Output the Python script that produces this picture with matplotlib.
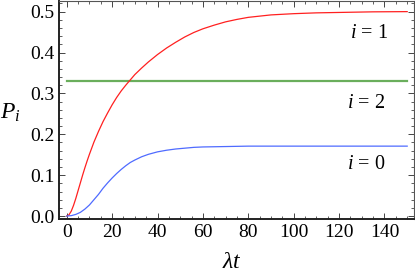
import matplotlib
matplotlib.use("Agg")
import matplotlib.pyplot as plt
from matplotlib.ticker import MultipleLocator, FormatStrFormatter

plt.rcParams['font.family'] = ['Liberation Serif', 'DejaVu Serif']
plt.rcParams['mathtext.fontset'] = 'custom'
plt.rcParams['mathtext.rm'] = 'Liberation Serif'
plt.rcParams['mathtext.it'] = 'Liberation Serif:italic'

# data
t_red = [0, 1, 2, 3, 4, 5, 6, 7, 8, 9, 10, 12, 14, 16, 18, 20, 22, 24, 26, 28, 30,
         33, 36, 40, 44, 48, 52, 56, 60, 65, 70, 75, 80, 90, 100, 110, 120, 135, 150]
p_red = [0.0, 0.003, 0.012, 0.026, 0.043, 0.062, 0.081, 0.100, 0.118, 0.135, 0.151,
         0.181, 0.207, 0.231, 0.252, 0.272, 0.290, 0.306, 0.320, 0.333, 0.346,
         0.362, 0.377, 0.395, 0.411, 0.425, 0.438, 0.449, 0.458, 0.467, 0.475,
         0.481, 0.486, 0.492, 0.495, 0.497, 0.498, 0.4995, 0.5]

t_blue = [0, 2, 4, 6, 8, 10, 12, 14, 16, 18, 20, 22, 24, 26, 28, 30, 33, 36, 40,
          44, 48, 52, 56, 60, 70, 80, 100, 150]
p_blue = [0.0, 0.001, 0.004, 0.009, 0.017, 0.027, 0.040, 0.053, 0.068, 0.081, 0.093,
          0.104, 0.114, 0.123, 0.131, 0.137, 0.145, 0.151, 0.157, 0.161, 0.164,
          0.166, 0.168, 0.169, 0.170, 0.171, 0.171, 0.171]

t_green = [0, 150]
p_green = [0.33, 0.33]

labels = ['$i$ = 1', '$i$ = 2', '$i$ = 0']
label_x = [133, 132, 132]
label_y = [0.447, 0.276, 0.125]

fig = plt.figure(figsize=(4.15, 2.73), dpi=100)
ax = fig.add_axes([59/415, 1 - 218.5/273, (414 - 59)/415, (218.5 - 1)/273])

ax.plot(t_green, p_green, color='#6aae5c', lw=1.6)
ax.plot(t_red, p_red, color='#ff2020', lw=0.9)
ax.plot(t_blue, p_blue, color='#4f6bff', lw=0.9)

for s, x, y in zip(labels, label_x, label_y):
    ax.text(x, y, s, fontsize=14.5, ha='center', va='center')

ax.set_xlim(-3.4, 153)
ax.set_ylim(-0.006, 0.526)
ax.xaxis.set_major_locator(MultipleLocator(20))
ax.xaxis.set_minor_locator(MultipleLocator(5))
ax.yaxis.set_major_locator(MultipleLocator(0.1))
ax.yaxis.set_minor_locator(MultipleLocator(0.02))
ax.yaxis.set_major_formatter(FormatStrFormatter('%.1f'))

ax.tick_params(which='both', direction='in', top=True, right=True, labelsize=14, color='#444444')
ax.tick_params(which='major', length=4.3, width=0.7)
ax.tick_params(which='minor', length=2.5, width=0.6)
ax.tick_params(axis='x', pad=4)
ax.tick_params(axis='y', pad=3)

for side in ['left', 'bottom']:
    ax.spines[side].set_linewidth(1.4)
    ax.spines[side].set_color('#222222')
for side in ['top', 'right']:
    ax.spines[side].set_linewidth(0.8)
    ax.spines[side].set_color('#555555')

fig.text(10/415, 1 - 113/273, '$P_i$', fontsize=17, ha='center', va='center')
fig.text(232/415, 1 - 262/273, r'$\lambda t$', fontsize=17, ha='center', va='center')

fig.savefig('out.png', dpi=100)
